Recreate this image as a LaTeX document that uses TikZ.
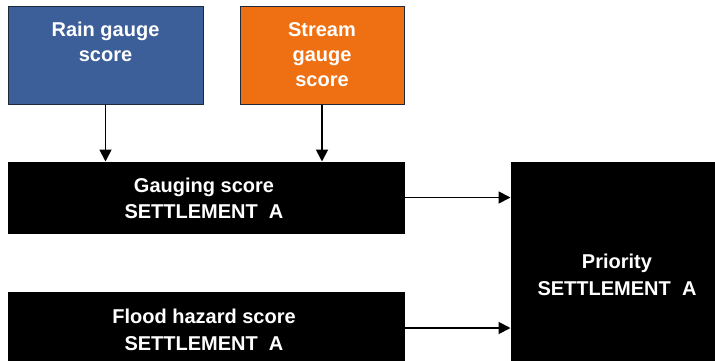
\documentclass[tikz,border=0pt]{standalone}
\usepackage{fontspec}
\setmainfont{Liberation Sans}
\usetikzlibrary{arrows.meta}
\definecolor{rainblue}{HTML}{3D5F99}
\definecolor{streamorange}{HTML}{EE7012}
\definecolor{edgedark}{HTML}{1E2A3A}
\tikzset{
  box/.style={draw=edgedark, line width=1pt, inner sep=0pt},
  lbl/.style={text=white, font=\bfseries\fontsize{20}{25}\selectfont, align=center, inner sep=0pt},
  conn/.style={line width=1.8pt, -{Triangle[width=12pt,length=12pt]}}
}
\begin{document}
\begin{tikzpicture}[x=1pt,y=-1pt]
\useasboundingbox (0,0) rectangle (715,361);
% boxes
\node[box, fill=rainblue, minimum width=195pt, minimum height=97pt] (rain) at (105.5,55.5) {};
\node[box, fill=streamorange, minimum width=164pt, minimum height=97pt] (stream) at (322,55.5) {};
\node[box, fill=black, draw=black, minimum width=396pt, minimum height=71pt] (gauge) at (206,197.5) {};
\node[box, fill=black, draw=black, minimum width=396pt, minimum height=72pt] (flood) at (206,328) {};
\node[box, fill=black, draw=black, minimum width=206pt, minimum height=200pt] (prio) at (614,262) {};
% labels
\node[lbl, anchor=base] (rainA) at (105.5,37) {Rain gauge};
\node[lbl, anchor=base] (rainB) at (105.5,62) {score};
\node[lbl, anchor=base] (streamA) at (322,37) {Stream};
\node[lbl, anchor=base] (streamB) at (322,62) {gauge};
\node[lbl, anchor=base] (streamC) at (322,87) {score};
\node[lbl, anchor=base] (gaugeA) at (204,192) {Gauging score};
\node[lbl, anchor=base] (gaugeB) at (204,218) {SETTLEMENT\ \ A};
\node[lbl, anchor=base] (floodA) at (204,323) {Flood hazard score};
\node[lbl, anchor=base] (floodB) at (204,350) {SETTLEMENT\ \ A};
\node[lbl, anchor=base] (prioA) at (617,268) {Priority};
\node[lbl, anchor=base] (prioB) at (617,295) {SETTLEMENT\ \ A};
% connectors
\draw[conn] (rain.south) -- (rain.south |- gauge.north);
\draw[conn] (stream.south) -- (stream.south |- gauge.north);
\draw[conn] (gauge.east) -- (gauge.east -| prio.west);
\draw[conn] (flood.east) -- (flood.east -| prio.west);
\end{tikzpicture}
\end{document}
